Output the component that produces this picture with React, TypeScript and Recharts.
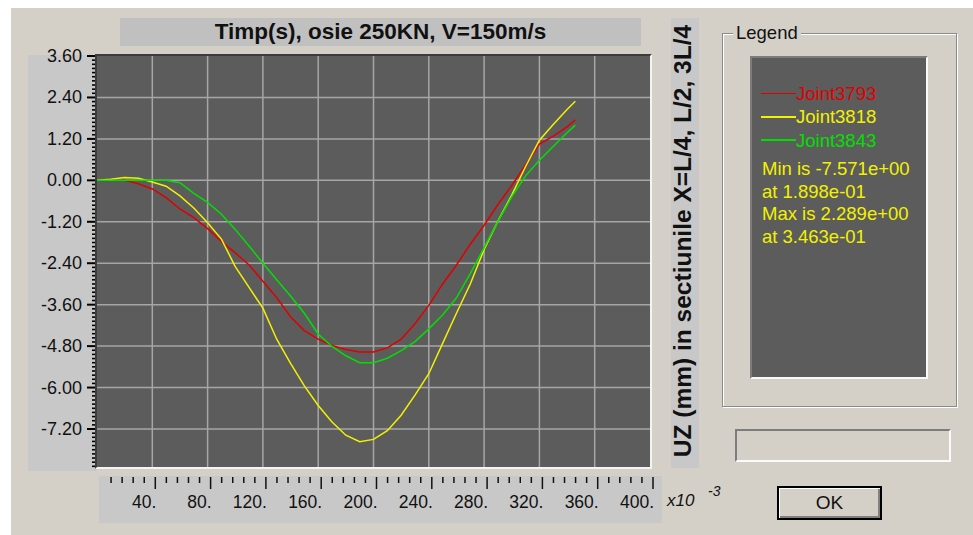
import React from 'react';
import { LineChart, Line, XAxis, YAxis, ReferenceLine } from 'recharts';

// time in x10^-3 s
const xValues = [0, 10, 20, 30, 40, 50, 60, 70, 80, 90, 100, 110, 120, 130, 140, 150, 160, 170, 180, 190, 200, 210, 220, 230, 240, 250, 260, 270, 280, 290, 300, 310, 320, 330, 340, 346];
const joint3793 = [0, 0, 0, -0.1, -0.25, -0.5, -0.83, -1.08, -1.4, -1.77, -2.1, -2.45, -2.92, -3.4, -3.95, -4.35, -4.6, -4.78, -4.9, -4.97, -4.97, -4.85, -4.6, -4.15, -3.62, -3.0, -2.45, -1.85, -1.3, -0.7, -0.15, 0.45, 1.05, 1.28, 1.55, 1.75];
const joint3818 = [0, 0.03, 0.08, 0.06, -0.05, -0.17, -0.45, -0.8, -1.23, -1.7, -2.5, -3.1, -3.7, -4.6, -5.3, -5.95, -6.52, -7.0, -7.38, -7.57, -7.5, -7.25, -6.8, -6.22, -5.6, -4.72, -3.85, -3.0, -2.0, -1.18, -0.43, 0.4, 1.16, 1.62, 2.05, 2.29];
const joint3843 = [0, 0, 0, 0, 0, 0, -0.07, -0.38, -0.64, -0.98, -1.42, -1.9, -2.4, -2.88, -3.35, -3.85, -4.45, -4.81, -5.08, -5.28, -5.28, -5.15, -4.93, -4.67, -4.3, -3.9, -3.4, -2.7, -1.95, -1.19, -0.48, 0.13, 0.58, 0.98, 1.38, 1.6];

const seriesNames = ['Joint3793', 'Joint3818', 'Joint3843'];
const seriesColors = ['#e00000', '#f2f200', '#00e000'];
const seriesValues = [joint3793, joint3818, joint3843];
const statsLines = ['Min is -7.571e+00', 'at 1.898e-01', 'Max is 2.289e+00', 'at 3.463e-01'];

const yMajorTicks = [3.6, 2.4, 1.2, 0, -1.2, -2.4, -3.6, -4.8, -6, -7.2];
const yDomain = [-8.3, 3.6];
const yMinorStep = 0.12;
const xMajorTicks = [40, 80, 120, 160, 200, 240, 280, 320, 360, 400];
const xMinorStep = 8;
const xDomain = [0, 400];

const titleText = 'Timp(s), osie 250KN, V=150m/s';
const yTitleText = 'UZ (mm) in sectiunile X=L/4, L/2, 3L/4';

const data = xValues.map((x, i) => {
  const row: any = { x };
  seriesValues.forEach((s, k) => { row['s' + k] = s[i]; });
  return row;
});

const yAllTicks: number[] = [];
for (let i = 0; ; i++) {
  const v = Math.round((yDomain[1] - i * yMinorStep) * 100) / 100;
  if (v < yDomain[0]) break;
  yAllTicks.push(v);
}
const xAllTicks: number[] = [];
for (let v = xMinorStep; v <= xDomain[1]; v += xMinorStep) xAllTicks.push(v);

const FONT = '"Liberation Sans", Arial, sans-serif';

const YTick = (props: any) => {
  const { x, y, payload } = props;
  const v = payload.value;
  const major = yMajorTicks.some((m) => Math.abs(m - v) < 1e-6);
  const px = Number(x);
  const py = Number(y);
  if (major) {
    return (
      <g>
        <path d={`M${px - 10},${py}H${px}`} stroke="#000000" strokeWidth={2} fill="none" />
        <text x={px - 15} y={py} textAnchor="end" dominantBaseline="central" fontFamily={FONT} fontSize={18} fill="#111">
          {v.toFixed(2)}
        </text>
      </g>
    );
  }
  return <path d={`M${px - 5},${py}H${px - 2}`} stroke="#000000" strokeWidth={1.6} fill="none" />;
};

const XTick = (props: any) => {
  const { x, y, payload } = props;
  const v = payload.value;
  const major = xMajorTicks.includes(v);
  const tx = Number(x) + 3;
  const ty = Number(y);
  return (
    <g>
      <path d={`M${tx},${ty + 10}V${ty + (major ? 22 : 16)}`} stroke="#111" strokeWidth={1.5} fill="none" />
      {major && (
        <text x={tx + 1} y={ty + 41} textAnchor="end" fontFamily={FONT} fontSize={17.5} fill="#111">
          {`${v}.`}
        </text>
      )}
    </g>
  );
};

const abs = (l: number, t: number, w: number, h: number, extra: any = {}) => ({
  position: 'absolute' as const, left: l, top: t, width: w, height: h, boxSizing: 'border-box' as const, ...extra,
});

const sunken = { borderTop: '2px solid #7c7c7c', borderLeft: '2px solid #7c7c7c', borderRight: '2px solid #fafafa', borderBottom: '2px solid #fafafa' };

export default function App() {
  return (
    <div style={{ position: 'fixed', left: 0, top: 0, width: 973, height: 535, background: '#ffffff', overflow: 'hidden', fontFamily: FONT }}>
      <div style={abs(11, 8, 962, 527, { background: '#d4d0c8' })} />
      {/* title */}
      <div style={abs(120, 18, 521, 28, { background: '#c0c0c0', textAlign: 'center', fontWeight: 'bold', fontSize: 22.5, lineHeight: '28px', color: '#111' })}>
        {titleText}
      </div>
      {/* axis panels */}
      <div style={abs(28, 55, 69, 416, { background: '#c8c8c8' })} />
      <div style={abs(99, 476, 563, 47, { background: '#c8c8c8' })} />
      <div style={abs(671, 18, 28, 450, { background: '#c8c8c8' })} />
      <div style={abs(458, 227, 450, 28, { transform: 'rotate(-90deg)', textAlign: 'center', fontWeight: 'bold', fontSize: 24.5, lineHeight: '28px', color: '#111', whiteSpace: 'nowrap' })}>
        {yTitleText}
      </div>
      {/* plot background */}
      <div style={abs(97, 56, 553, 411, { background: '#5c5c5c' })} />
      <div style={{ position: 'absolute', left: 0, top: 0 }}>
        <LineChart width={973} height={535} data={data} margin={{ top: 56, right: 323, left: 28, bottom: 12 }}>
          <XAxis
            dataKey="x"
            type="number"
            domain={xDomain}
            ticks={xAllTicks}
            interval={0}
            tickLine={false}
            axisLine={false}
            tickSize={0}
            tickMargin={0}
            height={56}
            tick={XTick}
          />
          <YAxis
            type="number"
            domain={yDomain}
            ticks={yAllTicks}
            interval={0}
            tickLine={false}
            axisLine={false}
            tickSize={0}
            tickMargin={0}
            width={69}
            tick={YTick}
          />
          {xMajorTicks.slice(0, -1).map((v) => (
            <ReferenceLine key={'gx' + v} x={v} stroke="#a6a6a6" strokeWidth={1.5} />
          ))}
          {yMajorTicks.slice(1).map((v) => (
            <ReferenceLine key={'gy' + v} y={v} stroke="#a6a6a6" strokeWidth={1.5} />
          ))}
          {seriesNames.map((n, k) => (
            <Line key={n} dataKey={'s' + k} name={n} type="linear" stroke={seriesColors[k]} strokeWidth={1.5} dot={false} isAnimationActive={false} />
          ))}
        </LineChart>
      </div>
      {/* plot border */}
      <div style={abs(95, 54, 557, 415, { borderTop: '2px solid #3c3c3c', borderLeft: '2px solid #3c3c3c', borderRight: '2px solid #f4f4f4', borderBottom: '2px solid #f4f4f4' })} />
      {/* x10^-3 */}
      <div style={{ position: 'absolute', left: 667, top: 492, fontSize: 17, fontStyle: 'italic', color: '#111', lineHeight: '17px' }}>x10</div>
      <div style={{ position: 'absolute', left: 708, top: 484, fontSize: 14, fontStyle: 'italic', color: '#111', lineHeight: '14px' }}>-3</div>
      {/* legend group */}
      <div style={abs(722, 33, 235, 374, { border: '1px solid #8a8a8a', boxShadow: 'inset 1px 1px 0 #ffffff, 1px 1px 0 #ffffff' })} />
      <div style={{ position: 'absolute', left: 733, top: 23, padding: '0 3px', background: '#d4d0c8', fontSize: 18.5, lineHeight: '20px', color: '#111' }}>Legend</div>
      <div style={abs(750, 56, 178, 323, { background: '#5c5c5c', ...sunken })} />
      {seriesNames.map((n, k) => (
        <div key={n} style={{ position: 'absolute', left: 761, top: 82 + k * 23.3, height: 23, display: 'flex', alignItems: 'center' }}>
          <div style={{ width: 35, height: 1.6, background: seriesColors[k] }} />
          <span style={{ color: seriesColors[k], fontSize: 18.5, lineHeight: '23px' }}>{n}</span>
        </div>
      ))}
      {statsLines.map((s, i) => (
        <div key={i} style={{ position: 'absolute', left: 762, top: 157 + i * 22.7, height: 23, fontSize: 18.5, lineHeight: '23px', color: seriesColors[1], whiteSpace: 'nowrap' }}>
          {s}
        </div>
      ))}
      {/* empty field */}
      <div style={abs(735, 429, 216, 33, { background: '#d4d0c8', ...sunken })} />
      {/* OK button */}
      <div style={abs(777, 486, 105, 34, { border: '2px solid #000', background: '#d4d0c8', boxShadow: 'inset 1px 1px 0 #ffffff, inset -2px -2px 0 #808080', textAlign: 'center', lineHeight: '30px', fontSize: 19, color: '#111' })}>
        OK
      </div>
    </div>
  );
}
